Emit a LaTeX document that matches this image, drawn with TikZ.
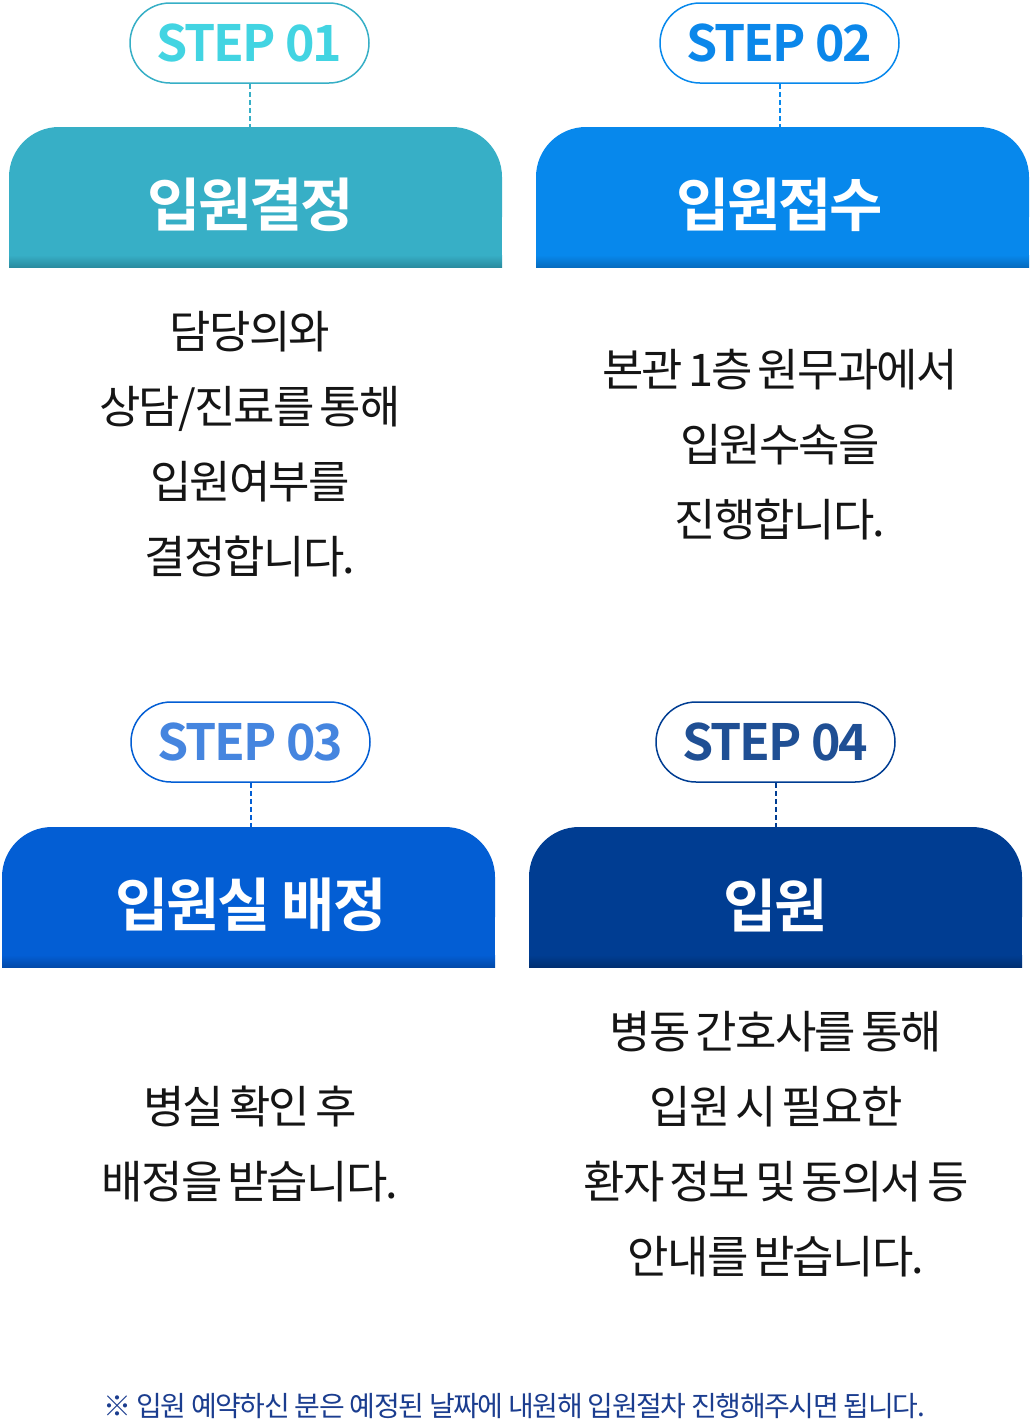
\documentclass[tikz,border=0pt]{standalone}
\usepackage{fontspec}
\newfontfamily\krbody[LetterSpace=-4,WordSpace=0.6]{Noto Sans CJK KR}
\newfontfamily\krbold[LetterSpace=-4]{Noto Sans CJK KR Bold}
\newfontfamily\krnote[LetterSpace=-5]{Noto Sans CJK KR}
\definecolor{hA}{HTML}{37AFC6}\definecolor{tA}{HTML}{42D4E2}\definecolor{dA}{HTML}{2A8CA0}
\definecolor{hB}{HTML}{0788EC}\definecolor{tB}{HTML}{0B87EA}\definecolor{dB}{HTML}{066CC0}
\definecolor{hC}{HTML}{035ED4}\definecolor{tC}{HTML}{4585DF}\definecolor{dC}{HTML}{024AAA}
\definecolor{hD}{HTML}{003D92}\definecolor{tD}{HTML}{1F4F94}\definecolor{dD}{HTML}{002F72}
\definecolor{bodytxt}{HTML}{151515}
\definecolor{notetxt}{HTML}{1B3D8F}
\tikzset{
  pill/.style={draw=h#1, line width=1.5pt, fill=white, rounded corners=40pt,
    minimum width=239pt, minimum height=80pt, inner sep=0pt, text=t#1,
    font=\krbold\fontsize{50}{56}\selectfont},
  headtxt/.style={text=white, inner sep=0pt, font=\krbold\fontsize{58}{64}\selectfont},
  bodyblk/.style={text=bodytxt, align=center, inner sep=0pt,
    font=\krbody\fontsize{45}{75}\selectfont},
  conn/.style={draw=h#1, line width=2pt, dash pattern=on 5pt off 3pt},
}
\newcommand{\headshape}[5]{% x1 x2 top bottom letter
  \fill[h#5, rounded corners=50pt] (#1,#3) rectangle (#2,#4);
  \fill[h#5] (#1,#3+60) rectangle (#2,#4);
  \shade[top color=h#5, bottom color=d#5] (#1,#4-12) rectangle (#2,#4);
}
\begin{document}
\begin{tikzpicture}[x=1pt,y=-1pt]
\useasboundingbox (0,0) rectangle (1030,1422);
% headers
\headshape{9}{502}{127}{267}{A}
\headshape{536}{1029}{127}{267}{B}
\headshape{2}{495}{827}{967}{C}
\headshape{529}{1022}{827}{967}{D}
\node[headtxt] (h1) at (251,205) {입원결정};
\node[headtxt] (h2) at (780,205) {입원접수};
\node[headtxt] (h3) at (251,905) {입원실 배정};
\node[headtxt] (h4) at (776,905) {입원};
% pills
\node[pill=A] (p1) at (249.5,43) {STEP 01};
\node[pill=B] (p2) at (779.5,43) {STEP 02};
\node[pill=C] (p3) at (250.5,742) {STEP 03};
\node[pill=D] (p4) at (775.5,742) {STEP 04};
% connectors
\coordinate (c1) at (249.5,127);
\coordinate (c2) at (779.5,127);
\coordinate (c3) at (250.5,827);
\coordinate (c4) at (775.5,827);
\draw[conn=A] (p1.south) -- (c1);
\draw[conn=B] (p2.south) -- (c2);
\draw[conn=C] (p3.south) -- (c3);
\draw[conn=D] (p4.south) -- (c4);
% body text
\node[bodyblk] (b1) at (250,444) {담당의와\\상담/진료를 통해\\입원여부를\\결정합니다.};
\node[bodyblk] (b2) at (780,445) {본관 1층 원무과에서\\입원수속을\\진행합니다.};
\node[bodyblk] (b3) at (250,1144) {병실 확인 후\\배정을 받습니다.};
\node[bodyblk] (b4) at (776,1144) {병동 간호사를 통해\\입원 시 필요한\\환자 정보 및 동의서 등\\안내를 받습니다.};
% note
\node[text=notetxt, inner sep=0pt, font=\krnote\fontsize{28}{30}\selectfont] (note) at (514,1406) {※ 입원 예약하신 분은 예정된 날짜에 내원해 입원절차 진행해주시면 됩니다.};
\end{tikzpicture}
\end{document}
